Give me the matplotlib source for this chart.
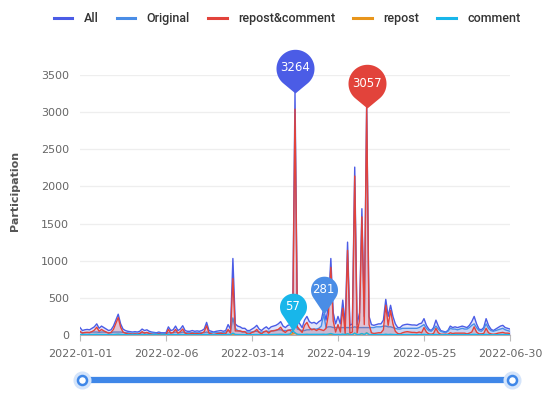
import numpy as np
import pandas as pd
import matplotlib
matplotlib.use("Agg")
import matplotlib.pyplot as plt
from matplotlib.path import Path
from matplotlib.lines import Line2D

# ---------------- data ----------------
dates = pd.date_range("2022-01-01", "2022-06-30", freq="D")
tick_labels = ["2022-01-01", "2022-02-06", "2022-03-14", "2022-04-19", "2022-05-25", "2022-06-30"]
series_names = ["All", "Original", "repost&comment", "repost", "comment"]

all_vals = [
    100, 60, 70, 75, 70, 90, 110, 150, 90, 120,
    100, 80, 60, 70, 120, 200, 280, 150, 80, 60,
    50, 45, 40, 45, 40, 50, 80, 60, 70, 50,
    40, 35, 30, 40, 30, 30, 30, 110, 60, 70,
    120, 60, 80, 125, 60, 50, 50, 60, 50, 55,
    50, 60, 80, 170, 60, 50, 40, 50, 55, 60,
    50, 60, 140, 80, 1030, 150, 120, 110, 90, 90,
    60, 60, 80, 100, 130, 80, 60, 90, 110, 80,
    110, 120, 130, 150, 180, 120, 100, 130, 140, 120,
    3264, 200, 150, 100, 200, 250, 180, 160, 170, 150,
    180, 200, 350, 200, 400, 1030, 300, 150, 250, 150,
    470, 130, 1250, 130, 150, 2260, 140, 300, 1700, 250,
    3120, 250, 140, 130, 140, 150, 150, 200, 480, 250,
    400, 250, 150, 100, 100, 130, 140, 145, 140, 135,
    135, 130, 150, 160, 220, 130, 80, 60, 100, 200,
    120, 60, 50, 40, 60, 120, 100, 110, 100, 110,
    120, 110, 100, 130, 180, 250, 150, 80, 70, 100,
    220, 130, 80, 60, 80, 100, 120, 130, 100, 90, 80,
]
original_vals = [
    40, 30, 30, 35, 30, 40, 40, 40, 35, 40,
    40, 35, 30, 30, 40, 40, 40, 40, 35, 30,
    30, 25, 25, 25, 25, 25, 30, 30, 30, 25,
    25, 25, 20, 20, 20, 20, 20, 30, 30, 30,
    40, 30, 30, 40, 30, 30, 30, 30, 30, 30,
    30, 30, 30, 40, 30, 30, 30, 30, 30, 30,
    30, 40, 60, 50, 230, 90, 60, 50, 40, 40,
    40, 40, 40, 50, 50, 40, 40, 40, 50, 50,
    50, 60, 60, 70, 70, 60, 60, 60, 70, 80,
    170, 80, 70, 60, 60, 70, 70, 80, 80, 80,
    90, 120, 281, 100, 110, 110, 100, 100, 100, 100,
    100, 100, 100, 100, 100, 110, 100, 100, 100, 100,
    100, 100, 100, 100, 110, 110, 110, 120, 120, 110,
    110, 100, 90, 80, 80, 90, 90, 90, 90, 90,
    90, 90, 100, 120, 140, 90, 60, 50, 80, 120,
    80, 50, 40, 30, 50, 90, 80, 80, 70, 80,
    90, 80, 80, 100, 130, 150, 100, 60, 50, 80,
    150, 90, 60, 50, 60, 70, 80, 90, 70, 60, 50,
]
repost_comment_vals = [
    50, 25, 35, 35, 35, 45, 65, 105, 50, 75,
    55, 40, 25, 35, 75, 155, 235, 105, 40, 25,
    15, 15, 10, 15, 10, 20, 45, 25, 35, 20,
    10, 5, 5, 15, 5, 5, 5, 75, 25, 35,
    75, 25, 45, 80, 25, 15, 15, 25, 15, 20,
    15, 25, 45, 125, 25, 15, 5, 15, 20, 25,
    15, 15, 75, 25, 760, 55, 55, 55, 45, 45,
    15, 15, 35, 45, 75, 35, 15, 45, 55, 25,
    55, 55, 65, 75, 105, 55, 35, 65, 65, 30,
    3040, 110, 70, 35, 130, 170, 100, 70, 80, 60,
    80, 70, 60, 90, 280, 910, 190, 40, 140, 40,
    360, 20, 1140, 25, 40, 2140, 30, 190, 1590, 140,
    3057, 140, 30, 20, 25, 30, 30, 70, 400, 130,
    330, 150, 50, 20, 15, 30, 40, 45, 40, 35,
    35, 30, 40, 30, 100, 40, 15, 10, 20, 90,
    30, 10, 10, 10, 10, 30, 20, 25, 25, 25,
    25, 25, 15, 25, 40, 110, 40, 15, 15, 20,
    90, 30, 15, 10, 15, 25, 30, 35, 25, 25, 20,
]
repost_vals = [
    2, 1, 1, 2, 1, 2, 2, 3, 2, 2,
    2, 1, 1, 1, 2, 3, 5, 3, 1, 1,
    1, 1, 1, 1, 1, 1, 2, 1, 1, 1,
    1, 1, 0, 1, 0, 0, 0, 2, 1, 1,
    2, 1, 1, 2, 1, 1, 1, 1, 1, 1,
    1, 1, 1, 3, 1, 1, 1, 1, 1, 1,
    1, 1, 2, 1, 12, 3, 2, 2, 1, 1,
    1, 1, 1, 2, 2, 1, 1, 1, 2, 1,
    2, 2, 2, 3, 3, 2, 2, 3, 5, 15,
    25, 4, 3, 2, 3, 4, 3, 3, 3, 3,
    3, 4, 5, 3, 6, 12, 5, 3, 4, 3,
    6, 2, 15, 2, 3, 25, 2, 4, 18, 3,
    30, 3, 2, 2, 2, 2, 2, 3, 6, 3,
    5, 3, 2, 2, 2, 2, 2, 2, 2, 2,
    2, 2, 2, 2, 3, 2, 1, 1, 2, 3,
    2, 1, 1, 1, 1, 2, 2, 2, 2, 2,
    2, 2, 2, 2, 3, 4, 2, 1, 1, 2,
    3, 2, 1, 1, 1, 2, 2, 2, 2, 2, 1,
]
comment_vals = [
    8, 5, 5, 6, 5, 6, 7, 9, 6, 7,
    6, 5, 4, 5, 7, 9, 12, 8, 5, 4,
    4, 3, 3, 3, 3, 3, 5, 4, 4, 3,
    3, 3, 2, 3, 2, 2, 2, 6, 4, 4,
    6, 4, 5, 6, 4, 3, 3, 4, 3, 3,
    3, 4, 4, 8, 4, 3, 3, 3, 3, 4,
    3, 4, 8, 5, 25, 8, 6, 6, 5, 5,
    4, 4, 5, 6, 6, 5, 4, 5, 6, 5,
    6, 7, 7, 8, 10, 8, 7, 9, 15, 57,
    30, 10, 8, 6, 8, 10, 8, 8, 8, 7,
    8, 9, 10, 8, 12, 20, 10, 6, 8, 6,
    12, 5, 18, 5, 6, 25, 6, 8, 20, 6,
    28, 7, 5, 5, 5, 5, 5, 6, 10, 7,
    9, 7, 5, 5, 5, 5, 5, 5, 5, 5,
    5, 5, 5, 6, 8, 5, 4, 4, 5, 7,
    5, 3, 3, 3, 4, 5, 5, 5, 5, 5,
    5, 5, 5, 5, 7, 9, 6, 4, 4, 5,
    8, 5, 4, 3, 4, 5, 5, 6, 5, 5, 4,
]

colors = ["#4b5ce6", "#4a8de6", "#e2433b", "#e8951b", "#18b6ea"]

# ---------------- figure ----------------
fig = plt.figure(figsize=(5.5, 3.98), dpi=100)
ax = fig.add_axes([80 / 550, 63 / 398, 430 / 550, 260 / 398])

x = np.arange(len(dates))
data = [all_vals, original_vals, repost_comment_vals, repost_vals, comment_vals]
fill_alpha = [0.16, 0.18, 0.20, 0.0, 0.0]
for i, (vals, c) in enumerate(zip(data, colors)):
    v = np.array(vals, dtype=float)
    if fill_alpha[i] > 0:
        ax.fill_between(x, 0, v, color=c, alpha=fill_alpha[i], lw=0, zorder=2 + i)
    ax.plot(x, v, color=c, lw=1.0, zorder=3 + i, label=series_names[i])

ax.set_xlim(0, len(dates) - 1)
ax.set_ylim(0, 3500)
ax.set_yticks(np.arange(0, 3501, 500))
tick_pos = [list(dates.strftime("%Y-%m-%d")).index(t) for t in tick_labels]
ax.set_xticks(tick_pos)
ax.set_xticklabels(tick_labels)
ax.grid(axis="y", color="#eeeeee", lw=0.9, zorder=0)
for s in ["top", "right", "left"]:
    ax.spines[s].set_visible(False)
ax.spines["bottom"].set_color("#bbbbbb")
ax.tick_params(axis="y", length=0, pad=8, labelsize=8, labelcolor="#666666")
ax.tick_params(axis="x", length=4, color="#bbbbbb", pad=6, labelsize=8, labelcolor="#666666")
ax.set_ylabel("Participation", fontsize=8, color="#555555", fontweight="bold")
ax.yaxis.set_label_coords(-0.14, 0.554)


# ---------------- pins (markPoints) ----------------
def pin_path(c):
    cos_phi = 1.0 / c
    start = -np.pi / 2 + np.arccos(cos_phi)
    end = 3 * np.pi / 2 - np.arccos(cos_phi)
    th = np.linspace(start, end, 60)
    arc = np.column_stack([np.cos(th), c + np.sin(th)])
    verts = np.vstack([[0, 0], arc, [0, 0]])
    codes = [Path.MOVETO] + [Path.LINETO] * (len(arc)) + [Path.CLOSEPOLY]
    return Path(verts, codes)


def add_pin(series_idx, label_value, big):
    vals = data[series_idx]
    idx = int(np.argmax(vals))
    c = 1.3 if big else 1.8
    width_pt = (38 if big else 27) * 0.72
    ms = width_pt * (c + 1)
    ax.plot([idx], [vals[idx]], marker=pin_path(c), markersize=ms,
            color=colors[series_idx], markeredgewidth=0, zorder=20, clip_on=False)
    off = c * width_pt / 2
    ax.annotate(str(label_value), (idx, vals[idx]), xytext=(0, off), textcoords="offset points",
                ha="center", va="center", color="white", fontsize=8.5, zorder=21,
                annotation_clip=False)


add_pin(0, max(all_vals), True)
add_pin(2, max(repost_comment_vals), True)
add_pin(1, max(original_vals), False)
add_pin(4, max(comment_vals), False)

# ---------------- legend ----------------
handles = [Line2D([0], [0], color=c, lw=2.2) for c in colors]
fig.legend(handles, series_names, loc="upper center", bbox_to_anchor=(0.522, 0.997), ncol=5,
           frameon=False, handlelength=1.5, columnspacing=1.45, handletextpad=0.9,
           labelcolor="#333333", prop={"family": "Roboto", "weight": "medium", "size": 9})

# ---------------- data zoom slider ----------------
ov = fig.add_axes([0, 0, 1, 1], facecolor="none")
ov.set_xlim(0, 550)
ov.set_ylim(398, 0)
ov.axis("off")
ov.plot([82, 512], [380, 380], color="#3f87e8", lw=4.5, solid_capstyle="butt", zorder=1)
for hx in (82, 512):
    ov.plot([hx], [380], marker="o", markersize=13, color="#d4e4fa", markeredgewidth=0, zorder=2)
    ov.plot([hx], [380], marker="o", markersize=6.5, markerfacecolor="white",
            markeredgecolor="#3f87e8", markeredgewidth=1.8, zorder=3)

fig.savefig("out.png", dpi=100)
